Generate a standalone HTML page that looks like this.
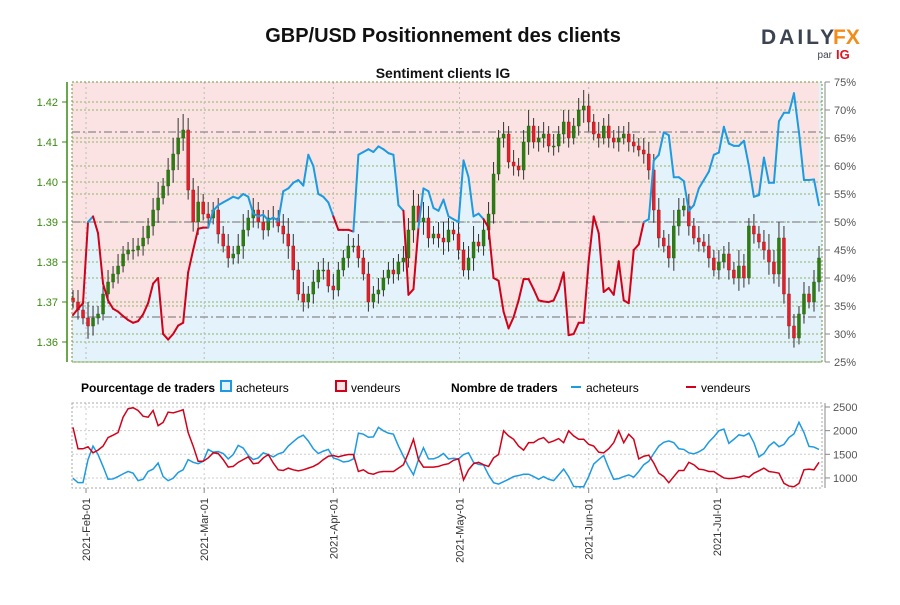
<!DOCTYPE html>
<html><head><meta charset="utf-8">
<style>
body{margin:0;background:#fff;width:900px;height:600px;overflow:hidden;font-family:"Liberation Sans",sans-serif;}
svg text{font-family:"Liberation Sans",sans-serif;}
.n{font-family:"Liberation Sans Narrow","Liberation Sans",sans-serif;}
</style></head>
<body>
<svg id="chart" width="900" height="600" xmlns="http://www.w3.org/2000/svg">
<text x="443" y="42" text-anchor="middle" font-size="20" font-weight="bold" fill="#111">GBP/USD Positionnement des clients</text>
<g>
<text x="761" y="44" font-size="21" font-weight="bold" fill="#3c4452" letter-spacing="3">DAILY</text>
<text x="833" y="44" font-size="21" font-weight="bold" fill="#f28c1b">FX</text>
<text x="832" y="58" font-size="10" fill="#3c4452" text-anchor="end">par</text>
<text x="836" y="59" font-size="13" font-weight="bold" fill="#e0131f">IG</text>
</g>
<text x="443" y="78" text-anchor="middle" font-size="14" font-weight="bold" fill="#111">Sentiment clients IG</text>
<g id="main"></g>
<g id="legend" class="n" font-size="12">
<text x="81" y="392" font-weight="bold" class="n">Pourcentage de traders</text>
<rect x="221" y="381" width="10" height="10" fill="#e3f2fb" stroke="#1e9ae0" stroke-width="2"/>
<text x="236" y="392" class="n">acheteurs</text>
<rect x="336" y="381" width="10" height="10" fill="#fbe3e3" stroke="#d0021b" stroke-width="2"/>
<text x="351" y="392" class="n">vendeurs</text>
<text x="451" y="392" font-weight="bold" class="n">Nombre de traders</text>
<line x1="571" y1="387" x2="581" y2="387" stroke="#1e9ae0" stroke-width="2"/>
<text x="586" y="392" class="n">acheteurs</text>
<line x1="686" y1="387" x2="696" y2="387" stroke="#d0021b" stroke-width="2"/>
<text x="701" y="392" class="n">vendeurs</text>
</g>
<g id="bottom"></g>
</svg>
<script>
const closes=[1.370,1.368,1.366,1.364,1.366,1.367,1.372,1.375,1.377,1.379,1.382,1.383,1.383,1.384,1.386,1.389,1.393,1.396,1.399,1.403,1.407,1.411,1.413,1.398,1.390,1.395,1.392,1.391,1.393,1.387,1.384,1.381,1.382,1.384,1.388,1.391,1.393,1.390,1.388,1.391,1.391,1.389,1.387,1.384,1.378,1.372,1.370,1.372,1.375,1.378,1.378,1.374,1.373,1.378,1.381,1.384,1.384,1.381,1.377,1.370,1.372,1.373,1.376,1.378,1.377,1.380,1.381,1.388,1.394,1.390,1.391,1.386,1.387,1.386,1.385,1.388,1.387,1.383,1.378,1.381,1.385,1.384,1.388,1.392,1.402,1.411,1.412,1.405,1.404,1.403,1.410,1.414,1.410,1.411,1.412,1.409,1.409,1.412,1.415,1.411,1.414,1.418,1.419,1.415,1.412,1.411,1.414,1.411,1.410,1.411,1.412,1.410,1.409,1.408,1.407,1.403,1.393,1.386,1.384,1.381,1.389,1.393,1.394,1.389,1.386,1.385,1.384,1.381,1.378,1.380,1.382,1.378,1.376,1.379,1.376,1.389,1.387,1.385,1.383,1.380,1.377,1.386,1.372,1.364,1.361,1.367,1.372,1.370,1.375,1.381];
const wicks=[0.002,0.003,0.002,0.004,0.003,0.002,0.002,0.003,0.002,0.003,0.002,0.002,0.003,0.002,0.003,0.002,0.003,0.004,0.002,0.003,0.004,0.005,0.004,0.003,0.003,0.004,0.002,0.003,0.002,0.003,0.002,0.003,0.002,0.003,0.004,0.002,0.003,0.002,0.003,0.002,0.003,0.002,0.003,0.004,0.003,0.002,0.003,0.002,0.003,0.002,0.003,0.002,0.003,0.002,0.002,0.003,0.002,0.003,0.002,0.003,0.002,0.003,0.002,0.002,0.003,0.002,0.003,0.003,0.004,0.003,0.004,0.003,0.002,0.003,0.004,0.003,0.002,0.003,0.002,0.003,0.004,0.002,0.003,0.003,0.003,0.002,0.003,0.002,0.003,0.002,0.003,0.004,0.002,0.003,0.003,0.002,0.003,0.002,0.003,0.003,0.002,0.003,0.004,0.003,0.002,0.003,0.002,0.003,0.002,0.003,0.002,0.003,0.002,0.002,0.003,0.003,0.004,0.003,0.002,0.003,0.004,0.003,0.002,0.003,0.002,0.003,0.002,0.003,0.002,0.003,0.002,0.003,0.002,0.004,0.003,0.002,0.003,0.002,0.003,0.004,0.003,0.004,0.003,0.004,0.003,0.002,0.003,0.002,0.003,0.003];
const longPct=[33.4,34.5,35.5,50,51,48,39,36,34.5,34,33.2,32.5,32,32.3,33.5,35.5,39,40,30,29,30,31.5,32,41,45,48.8,49,49,52,53,53.5,54,54.5,54.2,55,54.5,51.5,51,51.3,50.3,50.8,50.2,55.5,56,57,57.5,56.5,62,60,55,54.5,53.5,51,48.6,48.6,48.6,48.3,62,62.5,63,62.5,63.5,63,62.3,62,53,52,37,38,49,56,55.5,52.5,52,54,51,50.5,50,61,58,51,51.5,50.5,49,40,39.5,34,31,33,36,39.8,39.8,38,36,35.8,35.7,36,38,41,29.8,30,32,32,43,51,48,37.5,38.2,37,43,36,35.5,45,46,50,50.5,61,62,66,65.5,58,58,57.3,52,53,56,57.5,59,62,62.4,67,64,63.6,63.6,64.5,60,54.5,54.8,61.5,57,57,68,69.5,69.5,73,66,57.5,57.5,57.6,53];
const longCount=[993,900,900,1388,1674,1495,1244,972,979,1029,1086,1137,1101,943,972,1137,1187,1316,1029,943,993,1115,1172,1388,1330,1301,1352,1603,1545,1560,1517,1402,1495,1689,1631,1474,1388,1423,1531,1495,1445,1509,1545,1674,1767,1854,1904,1782,1617,1517,1567,1603,1423,1388,1337,1352,1402,1947,1925,1861,1868,2069,1997,1947,1925,1674,1459,1244,1065,1388,1639,1402,1402,1445,1517,1402,1416,1402,1495,1531,1330,1287,1273,1065,900,871,921,972,1029,1051,1079,1079,1029,972,1029,972,943,1065,1187,1029,821,814,814,1029,1294,1388,1474,1208,972,986,1029,1065,1015,1137,1280,1352,1517,1674,1753,1782,1746,1617,1603,1531,1509,1552,1617,1760,1868,1997,2033,1732,1818,1911,1889,1947,1746,1445,1517,1674,1760,1660,1710,1854,1932,2176,1961,1667,1653,1603];
const shortCount=[2069,1617,1617,1660,1531,1588,1674,1854,1904,1961,2284,2463,2485,2427,2305,2284,2427,2105,2176,2391,2377,2406,2442,1961,1674,1352,1352,1423,1531,1517,1388,1230,1244,1330,1388,1445,1301,1316,1423,1495,1316,1172,1158,1208,1172,1151,1172,1208,1244,1301,1388,1459,1474,1445,1474,1495,1495,1137,1172,1101,1079,1122,1137,1137,1137,1208,1280,1531,1818,1388,1230,1230,1230,1244,1280,1301,1373,1402,957,1172,1301,1330,1280,1244,1423,1495,1997,1889,1818,1674,1588,1746,1746,1818,1854,1746,1782,1832,1746,1997,1889,1818,1818,1710,1674,1545,1531,1617,1746,1997,1746,1925,1818,1402,1459,1481,1316,1101,1029,900,1029,1158,1158,1330,1280,1187,1172,1137,1137,1065,1000,986,993,1015,1043,1015,1101,1151,1208,1137,1122,1101,886,828,814,886,1172,1187,1172,1330];
const monthLabels=["2021-Feb-01","2021-Mar-01","2021-Apr-01","2021-May-01","2021-Jun-01","2021-Jul-01"];
const monthIndex=[2.6,26.2,52,77.2,103,128.6];
const priceTicks=[1.42,1.41,1.40,1.39,1.38,1.37,1.36];
const pctTicks=[75,70,65,60,55,50,45,40,35,30,25];
const countTicks=[2500,2000,1500,1000];

const NS="http://www.w3.org/2000/svg";
const X0=72,X1=822,T=82,B=362,BT=403,BB=488;
const N=closes.length;
const xs=i=>X0+1+i*(X1-X0-4)/(N-1);
const yp=p=>102+(1.42-p)*4000;
const yc=v=>T+(75-v)*(B-T)/50;
const yn=v=>407+(2500-v)*0.0473;
function el(tag,attrs,parent){const e=document.createElementNS(NS,tag);for(const k in attrs)e.setAttribute(k,attrs[k]);parent.appendChild(e);return e;}
const main=document.getElementById('main');
const bottom=document.getElementById('bottom');

// backgrounds
const bgp=el('rect',{x:X0,y:T,width:X1-X0,height:B-T,fill:'#fbe3e3'},main);


let area='M'+xs(0)+','+B;
longPct.forEach((v,i)=>{area+=' L'+xs(i)+','+yc(v);});
area+=' L'+xs(longPct.length-1)+','+B+' L'+X0+','+B+' L'+X0+','+yc(longPct[0])+' Z';
const ba=el('path',{d:area,fill:'#e3f2fb'},main);


el('rect',{x:X1-3,y:T,width:3,height:B-T,fill:'#e3f2fb'},main);

// grid
pctTicks.forEach(v=>{el('line',{x1:X0,x2:X1,y1:yc(v),y2:yc(v),stroke:'#8fb46a','stroke-width':1,'stroke-dasharray':'2,2'},main);});
priceTicks.forEach(v=>{el('line',{x1:X0,x2:X1,y1:yp(v),y2:yp(v),stroke:'#8fb46a','stroke-width':1,'stroke-dasharray':'2,2'},main);});
monthIndex.forEach(i=>{el('line',{x1:xs(i),x2:xs(i),y1:T,y2:B,stroke:'#bbb','stroke-dasharray':'2,3'},main);});
[132,222,317].forEach(y=>{el('line',{x1:X0,x2:X1,y1:y,y2:y,stroke:'#888','stroke-width':1.3,'stroke-dasharray':'8,3,2,3'},main);});

// candles
const cw=3;
closes.forEach((c,i)=>{
  const o=i?closes[i-1]:c+0.001;
  const hi=Math.max(o,c)+wicks[i],lo=Math.min(o,c)-wicks[i]*0.8;
  const g=el('g',{},main);
  
  
  el('line',{x1:xs(i),x2:xs(i),y1:yp(hi),y2:yp(lo),stroke:'#333','stroke-width':1},g);
  const top=yp(Math.max(o,c)),h=Math.max(1,Math.abs(yp(o)-yp(c)));
  el('rect',{x:xs(i)-cw/2,y:top,width:cw,height:h,fill:c>=o?'#2e7d12':'#e0202a',stroke:c>=o?'#1f5a0a':'#a01010','stroke-width':0.4},g);
});

// sentiment line
for(let i=1;i<longPct.length;i++){
  const a=longPct[i-1],b=longPct[i];
  const s=el('line',{x1:xs(i-1),y1:yc(a),x2:xs(i),y2:yc(b),stroke:(a+b)/2>=50?'#1e9ae0':'#d0021b','stroke-width':2,'stroke-linecap':'round'},main);
  
  
}

// frame and axes
el('rect',{x:X0,y:T,width:X1-X0,height:B-T,fill:'none',stroke:'#6a9a3a','stroke-dasharray':'2,2'},main);
el('line',{x1:67,x2:67,y1:T,y2:B,stroke:'#3a8a10','stroke-width':1.5},main);
priceTicks.forEach(v=>{
  el('line',{x1:62,x2:67,y1:yp(v),y2:yp(v),stroke:'#3a8a10'},main);
  const t=el('text',{x:58,y:yp(v)+4,'text-anchor':'end','font-size':11,fill:'#3a8a10'},main);
  
  
  t.textContent=v.toFixed(2);
});
el('line',{x1:825,x2:825,y1:T,y2:B,stroke:'#888'},main);
pctTicks.forEach(v=>{
  el('line',{x1:825,x2:830,y1:yc(v),y2:yc(v),stroke:'#888'},main);
  const t=el('text',{x:834,y:yc(v)+4,'font-size':11,fill:'#555'},main);
  
  
  t.textContent=v+'%';
});

// bottom panel
countTicks.forEach(v=>{el('line',{x1:X0,x2:X1,y1:yn(v),y2:yn(v),stroke:'#ccc','stroke-dasharray':'2,2'},bottom);});
monthIndex.forEach(i=>{el('line',{x1:xs(i),x2:xs(i),y1:BT,y2:BB,stroke:'#ccc','stroke-dasharray':'2,3'},bottom);});
el('rect',{x:X0,y:BT,width:X1-X0,height:BB-BT,fill:'none',stroke:'#aaa','stroke-dasharray':'2,2'},bottom);
function poly(arr,col,name){
  let d='';arr.forEach((v,i)=>{d+=(i?' L':'M')+xs(i)+','+yn(v);});
  const p=el('path',{d:d,fill:'none',stroke:col,'stroke-width':1.5},bottom);
  
  
}
poly(longCount,'#1e9ae0','buyers-count-line');
poly(shortCount,'#d0021b','sellers-count-line');
el('line',{x1:825,x2:825,y1:BT,y2:BB,stroke:'#888'},bottom);
countTicks.forEach(v=>{
  el('line',{x1:825,x2:830,y1:yn(v),y2:yn(v),stroke:'#888'},bottom);
  const t=el('text',{x:833,y:yn(v)+4,'font-size':11,fill:'#555',class:'n'},bottom);
  
  
  t.textContent=v;
});
monthLabels.forEach((m,k)=>{
  const x=xs(monthIndex[k]);
  el('line',{x1:x,x2:x,y1:BB,y2:BB+5,stroke:'#888'},bottom);
  const t=el('text',{x:0,y:0,'font-size':11,fill:'#333','text-anchor':'end',class:'n',transform:'translate('+(x+4)+','+(BB+10)+') rotate(-90)'},bottom);
  
  
  t.textContent=m;
});
</script>
</body></html>
